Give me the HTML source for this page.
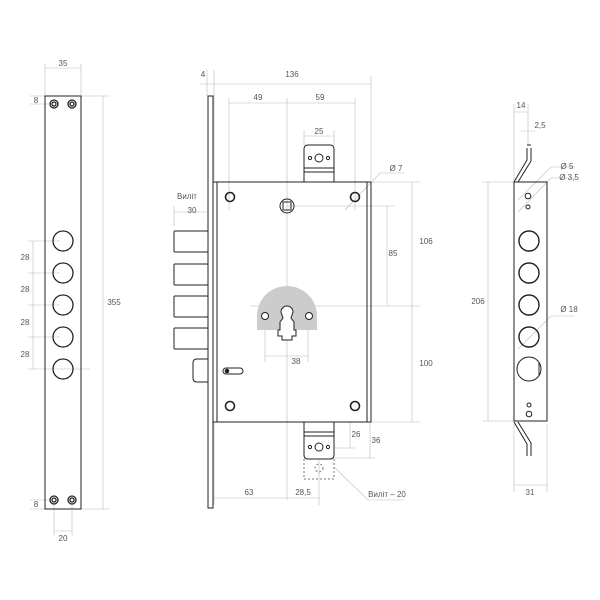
<!DOCTYPE html>
<html><head><style>body{margin:0;background:#fff}svg{display:block}text{font-family:"Liberation Sans",sans-serif;font-size:8px;fill:#555}</style></head><body>
<svg width="600" height="600" viewBox="0 0 600 600" xmlns="http://www.w3.org/2000/svg">
<g stroke="#bbb" stroke-width="0.6" fill="none">
<!-- left strip dims -->
<path d="M45 64V96M81 64V96M45 68H81"/>
<path d="M81 96H110M81 509H110M103 96V509"/>
<path d="M30 96H45M30 104H50M33 241V369M28 241H60M28 273H60M28 305H60M28 337H60M28 369H90"/>
<path d="M30 500H50M30 509H45M54 505V535M72 505V535M54 531H72"/>
<!-- middle dims -->
<path d="M207 70V96M214 70V180M371 76V180M200 84H371"/>
<path d="M229 98V210M355 98V210M229 103H355M287 98V500"/>
<path d="M304 130V145M334 130V145M304 136H334"/>
<path d="M345 210L380 173H404"/>
<path d="M287 206H395M371 182H420M371 422H420M387 206V305M412 182V422M250 306H420"/>
<path d="M265 330V362M308 330V362M265 356H308"/>
<path d="M334 422H355M334 448H355M350 422V448M334 458H375M370 422V458"/>
<path d="M214 422V505M319 460V505M214 498H319"/>
<path d="M174 206V226M174 212H207"/>
<path d="M335 468L368 500H404"/>
<!-- right strip dims -->
<path d="M514 104V180M528 104V145M514 112H528M521 131H535"/>
<path d="M514 182H482M514 421H482M488 182V421M514 424V492M547 424V492M514 485H547"/>
<path d="M518 200L551 167H575M518 212L551 178H575M518 349L551 316H575"/>
</g>
<g stroke="#222" stroke-width="1.3" fill="none">
<!-- left strip -->
<rect x="45" y="96" width="36" height="413" stroke-width="1"/>
<circle cx="54" cy="104" r="4"/><circle cx="54" cy="104" r="2"/><circle cx="72" cy="104" r="4"/><circle cx="72" cy="104" r="2"/>
<circle cx="54" cy="500" r="4"/><circle cx="54" cy="500" r="2"/><circle cx="72" cy="500" r="4"/><circle cx="72" cy="500" r="2"/>
<circle cx="63" cy="241" r="10"/><circle cx="63" cy="273" r="10"/><circle cx="63" cy="305" r="10"/><circle cx="63" cy="337" r="10"/><circle cx="63" cy="369" r="10"/>
</g>
<g stroke="#222" stroke-width="1" fill="none">
<!-- middle -->
<rect x="208" y="96" width="5" height="412"/>
<rect x="213" y="182" width="158" height="240"/>
<path d="M217 182V422M367 182V422"/>
<rect x="174" y="231" width="34" height="21" rx="1"/><rect x="174" y="264" width="34" height="21" rx="1"/><rect x="174" y="296" width="34" height="21" rx="1"/><rect x="174" y="328" width="34" height="21" rx="1"/>
<path d="M208 359H197Q193 359 193 363V378Q193 382 197 382H208"/>
<path d="M304 182V149Q304 145 308 145H330Q334 145 334 149V182M304 168H334M304 172H334"/>
<circle cx="319" cy="158" r="4"/><circle cx="310" cy="158" r="1.6"/><circle cx="328" cy="158" r="1.6"/>
<path d="M304 422V455Q304 459 308 459H330Q334 459 334 455V422M304 432H334M304 436H334"/>
<circle cx="319" cy="447" r="4"/><circle cx="310" cy="447" r="1.6"/><circle cx="328" cy="447" r="1.6"/>
<path d="M304 459V479H334V459" stroke-dasharray="2 2" stroke="#777"/>
<circle cx="319" cy="468" r="4" stroke-dasharray="2 2" stroke="#777"/>
<circle cx="230" cy="197" r="4.5" stroke-width="1.6"/><circle cx="355" cy="197" r="4.5" stroke-width="1.6"/>
<circle cx="230" cy="406" r="4.5" stroke-width="1.6"/><circle cx="355" cy="406" r="4.5" stroke-width="1.6"/>
<circle cx="287" cy="206" r="7"/><rect x="283" y="202" width="8" height="8"/>
</g>
<path d="M257 330V316A30 30 0 0 1 317 316V330Z" fill="#ccc"/>
<path d="M282 329V340H292V329Z" fill="#fff"/>
<g stroke="#222" stroke-width="1" fill="#fff">
<path d="M281 312A6 6 0 1 1 293 312L291 318L294 322V330H296V336H292V340H282V336H278V330H280V322L283 318Z"/>
<circle cx="265" cy="316" r="3.5"/><circle cx="309" cy="316" r="3.5"/>
<rect x="223" y="368" width="20" height="6" rx="3"/>
</g>
<circle cx="227" cy="371" r="2.3" fill="#222"/>
<g stroke="#222" stroke-width="1" fill="none">
<!-- right strip -->
<rect x="514" y="182" width="33" height="239"/>
<path d="M527 148V160L514 182M531 148V161L518 182M527 145H531"/>
<path d="M527 456V444L514 422M531 456V443L518 422"/>
<circle cx="528" cy="196" r="2.8"/><circle cx="528" cy="207" r="2"/>
<circle cx="529" cy="405" r="2"/><circle cx="529" cy="414" r="2.8"/>
<g stroke-width="1.4"><circle cx="529" cy="241" r="10"/><circle cx="529" cy="273" r="10"/><circle cx="529" cy="305" r="10"/><circle cx="529" cy="337" r="10"/></g>
<circle cx="529" cy="369" r="12"/><path d="M539 362V376"/>
</g>
<g text-anchor="middle">
<text x="63" y="66">35</text><text x="36" y="103">8</text><text x="36" y="507">8</text>
<text x="25" y="260">28</text><text x="25" y="292">28</text><text x="25" y="325">28</text><text x="25" y="357">28</text>
<text x="114" y="305">355</text><text x="63" y="541">20</text>
<text x="203" y="77">4</text><text x="292" y="77">136</text><text x="258" y="100">49</text><text x="320" y="100">59</text>
<text x="319" y="134">25</text><text x="396" y="171">Ø 7</text>
<text x="187" y="199">Виліт</text><text x="192" y="213">30</text>
<text x="393" y="256">85</text><text x="426" y="244">106</text><text x="426" y="366">100</text>
<text x="296" y="364">38</text><text x="356" y="437">26</text><text x="376" y="443">36</text>
<text x="249" y="495">63</text><text x="303" y="495">28,5</text><text x="387" y="497">Виліт – 20</text>
<text x="521" y="108">14</text><text x="540" y="128">2,5</text><text x="567" y="169">Ø 5</text><text x="569" y="180">Ø 3,5</text>
<text x="478" y="304">206</text><text x="569" y="312">Ø 18</text><text x="530" y="495">31</text>
</g>
</svg>
</body></html>
